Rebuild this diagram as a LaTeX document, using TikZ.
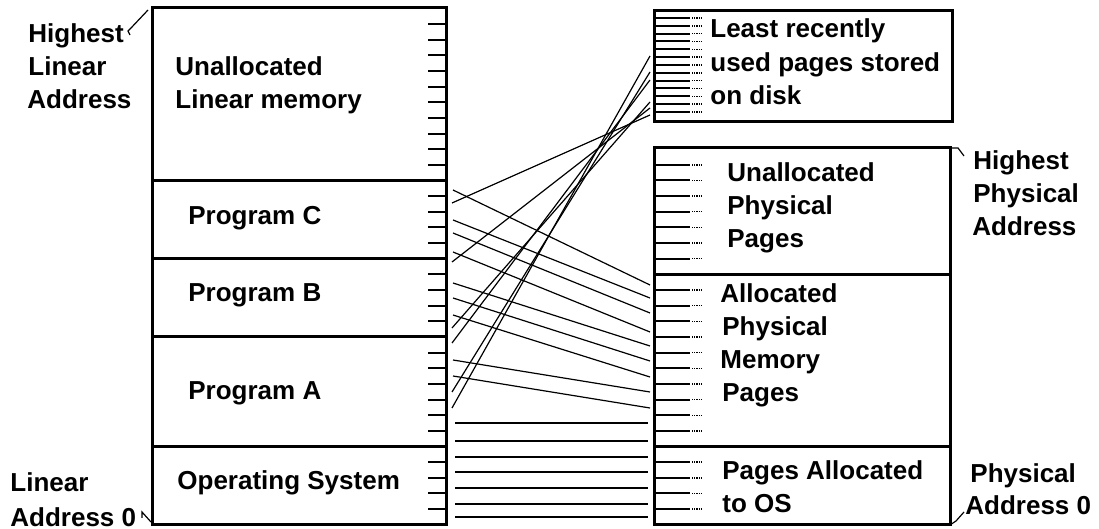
\documentclass[tikz,border=0pt]{standalone}
\usepackage{fontspec}
\setmainfont{Liberation Sans}
\usepackage{tikz}
\def\linearbox{(152,8) rectangle (446,525)}
\def\diskbox{(654,10.5) rectangle (952,122)}
\def\physbox{(654,148) rectangle (950,525)}
\def\pg{15.65}
\tikzset{box/.style={line width=1.5pt},
    pagetick/.style={line width=1pt},
    dots/.style={line width=0.7pt, dash pattern=on 0.55pt off 0.55pt},
    mapline/.style={line width=0.6pt},
    leader/.style={line width=0.6pt},
    lbl/.style={anchor=base west, inner sep=0pt, font=\fontsize{13}{16}\selectfont\bfseries}}

\begin{document}
\begin{tikzpicture}[x=0.5pt, y=-0.5pt]
    \useasboundingbox (0,0) rectangle (1099,529);
    % linear memory
    \draw[box] \linearbox;
    \foreach \k in {11,16,21,28}
        \draw[box] (152,8.35+\pg*\k) -- (446,8.35+\pg*\k);
    \foreach \k in {1,2,3,4,5,6,7,8,9,10,12,13,14,15,17,18,19,20,22,23,24,25,26,27,29,30,31,32}
        \draw[pagetick] (428,8.35+\pg*\k) -- (446,8.35+\pg*\k);
    % disk
    \draw[box] \diskbox;
    \foreach \j in {0,...,12} {
        \draw[pagetick] (654,18+7.83*\j) -- (690,18+7.83*\j);
        \draw[dots] (692,18+7.83*\j) -- (701,18+7.83*\j);
    }
    % physical memory
    \draw[box] \physbox;
    \foreach \k in {17,28}
        \draw[box] (654,8.35+\pg*\k) -- (950,8.35+\pg*\k);
    \foreach \k in {10,11,12,13,14,15,16,18,19,20,21,22,23,24,25,26,27,29,30,31,32} {
        \draw[pagetick] (654,8.35+\pg*\k) -- (690,8.35+\pg*\k);
        \draw[dots] (692,8.35+\pg*\k) -- (701,8.35+\pg*\k);
    }
    % page mappings
    \foreach \a/\b in {190/285,220/298,233/313,252/332,283/346,298/361,315/377,360/392,376/408}
        \draw[mapline] (453,\a) -- (650,\b);
    \foreach \a/\b in {203/115,262/108,328/102,343/80,392/72,408/56}
        \draw[mapline] (452,\a) -- (650,\b);
    \foreach \a in {423,441,457,472,488,504,517}
        \draw[mapline] (455,\a) -- (648,\a);

    \node[lbl] (hl1) at (28,43) {Highest};
    \node[lbl] (hl2) at (28,76) {Linear};
    \node[lbl] (hl3) at (27,109) {Address};
    \node[lbl] (unlin1) at (175,76) {Unallocated};
    \node[lbl] (unlin2) at (175,109) {Linear memory};
    \node[lbl] (progC) at (188,225) {Program C};
    \node[lbl] (progB) at (188,302) {Program B};
    \node[lbl] (progA) at (188,400) {Program A};
    \node[lbl] (opsys) at (177,489) {Operating System};
    \node[lbl] (la1) at (10,492) {Linear};
    \node[lbl] (la2) at (10,526) {Address 0};

    \node[lbl] (disk1) at (710,38) {Least recently};
    \node[lbl] (disk2) at (710,71.5) {used pages stored};
    \node[lbl] (disk3) at (710,105) {on disk};
    \node[lbl] (unphys1) at (727,182) {Unallocated};
    \node[lbl] (unphys2) at (727,215) {Physical};
    \node[lbl] (unphys3) at (727,248) {Pages};
    \node[lbl] (hp1) at (973,170) {Highest};
    \node[lbl] (hp2) at (973,203) {Physical};
    \node[lbl] (hp3) at (972,236) {Address};
    \node[lbl] (alloc1) at (720,303) {Allocated};
    \node[lbl] (alloc2) at (722,336) {Physical};
    \node[lbl] (alloc3) at (720,369) {Memory};
    \node[lbl] (alloc4) at (722,402) {Pages};
    \node[lbl] (ospg1) at (722,480) {Pages Allocated};
    \node[lbl] (ospg2) at (722,513) {to OS};
    \node[lbl] (pa1) at (970,482) {Physical};
    \node[lbl] (pa2) at (965,515) {Address 0};

    % address marks
    \draw[leader] (130,35) -- (128,31) -- (131,28) -- (148,10);
    \draw[leader] (142,518) -- (142,512) -- (151,522);
    \draw[leader] (951,148) -- (958,148) -- (964,156);
    \draw[leader] (950,525) -- (956,521) -- (964,512);
\end{tikzpicture}
\end{document}
